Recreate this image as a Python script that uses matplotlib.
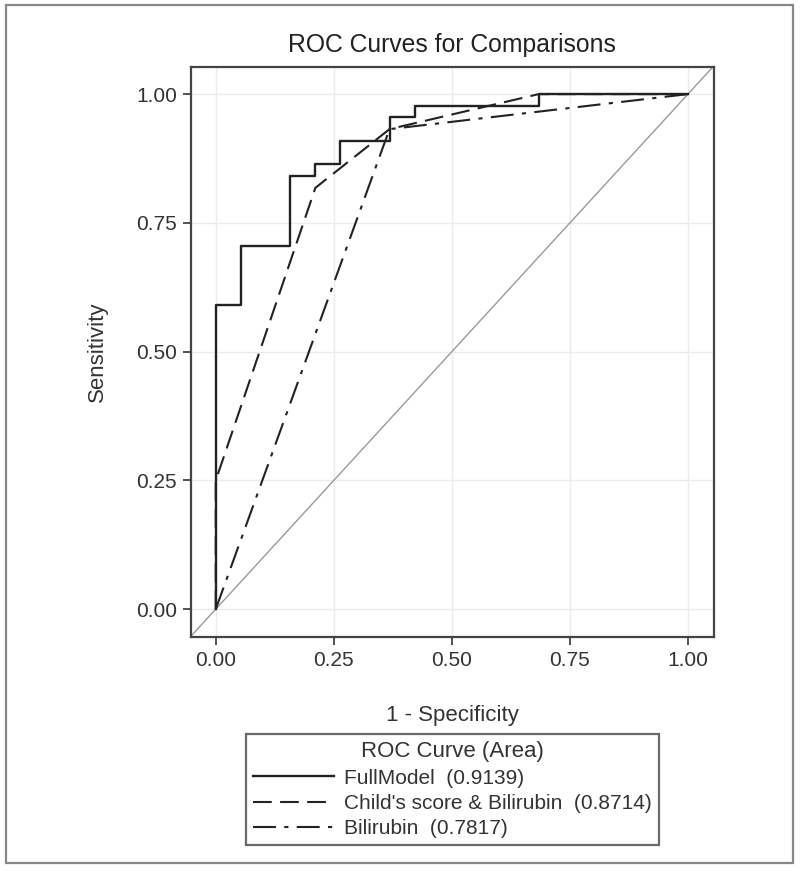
import matplotlib
matplotlib.use("Agg")
import matplotlib.pyplot as plt
from matplotlib.patches import Rectangle

# ROC vertices (1 - specificity, sensitivity)
full_fpr = [0.0, 0.0, 0.0526, 0.0526, 0.158, 0.158, 0.211, 0.211, 0.263, 0.263,
            0.368, 0.368, 0.421, 0.421, 0.684, 0.684, 1.0]
full_tpr = [0.0, 0.591, 0.591, 0.705, 0.705, 0.841, 0.841, 0.864, 0.864, 0.909,
            0.909, 0.955, 0.955, 0.977, 0.977, 1.0, 1.0]

child_fpr = [0.0, 0.0, 0.211, 0.368, 0.684, 1.0]
child_tpr = [0.0, 0.25, 0.818, 0.932, 1.0, 1.0]

bili_fpr = [0.0, 0.368, 1.0]
bili_tpr = [0.0, 0.932, 1.0]

labels = ["FullModel  (0.9139)",
          "Child's score & Bilirubin  (0.8714)",
          "Bilirubin  (0.7817)"]
ticks = [0.0, 0.25, 0.5, 0.75, 1.0]
tick_labels = ["0.00", "0.25", "0.50", "0.75", "1.00"]

plt.rcParams['font.family'] = ['Liberation Sans', 'DejaVu Sans']

fig = plt.figure(figsize=(8, 8.71), dpi=100)
ax = fig.add_axes([0.2384, 0.2687, 0.654, 0.654])

ax.axline((0, 0), (1, 1), color='#9a9a9a', lw=1.0, zorder=1)
ax.plot(full_fpr, full_tpr, color='#222222', lw=1.7, label=labels[0], zorder=3)
ax.plot(child_fpr, child_tpr, color='#222222', lw=1.5, dashes=(9, 4),
        label=labels[1], zorder=3)
ax.plot(bili_fpr, bili_tpr, color='#222222', lw=1.5, dashes=(11, 4, 2, 4),
        label=labels[2], zorder=3)

ax.set_xlim(-0.053, 1.055)
ax.set_ylim(-0.054, 1.052)
ax.set_xticks(ticks)
ax.set_xticklabels(tick_labels)
ax.set_yticks(ticks)
ax.set_yticklabels(tick_labels)
ax.grid(True, color='#ebebeb', lw=1.0)
ax.set_axisbelow(True)
for s in ax.spines.values():
    s.set_color('#444444')
    s.set_linewidth(1.6)
ax.tick_params(direction='out', length=6, width=1.3, color='#444444',
               labelsize=15, labelcolor='#333333', pad=4)

ax.set_title('ROC Curves for Comparisons', fontsize=17.8, color='#222222', pad=11)
ax.set_xlabel('1 - Specificity', fontsize=16, color='#333333', labelpad=25)
ax.set_ylabel('Sensitivity', fontsize=16, color='#333333', labelpad=20)

leg = fig.legend(loc='upper center', bbox_to_anchor=(452.5 / 800, 1 - 734 / 871),
                 title='ROC Curve (Area)', fontsize=15, title_fontsize=16,
                 frameon=True, fancybox=False, edgecolor='#444444',
                 handlelength=3.85, handletextpad=0.5, borderpad=0.35,
                 labelspacing=0.3, borderaxespad=0)
leg.get_frame().set_linewidth(1.6)
for t in leg.get_texts():
    t.set_color('#333333')
leg.get_title().set_color('#333333')

fig.patches.append(Rectangle((6 / 800, 1 - 863 / 871), 787 / 800, 858 / 871,
                             transform=fig.transFigure, fill=False,
                             edgecolor='#888888', lw=1.6))

plt.savefig('out.png', dpi=100)
